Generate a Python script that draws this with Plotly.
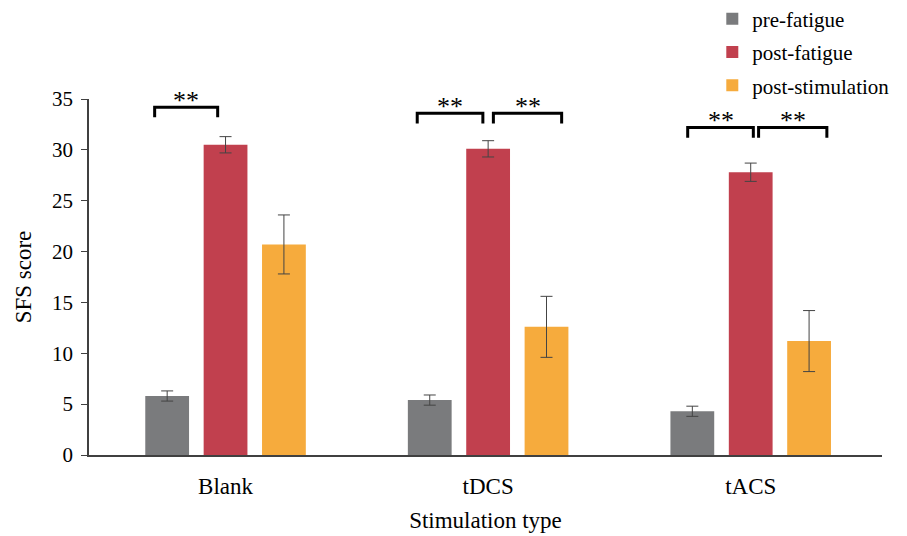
import plotly.graph_objects as go

categories = ["Blank", "tDCS", "tACS"]
series_names = ["pre-fatigue", "post-fatigue", "post-stimulation"]
pre_fatigue = [5.8, 5.4, 4.3]
pre_err = [0.5, 0.5, 0.5]
post_fatigue = [30.5, 30.1, 27.8]
post_err = [0.8, 0.8, 0.9]
post_stim = [20.7, 12.6, 11.2]
stim_err = [2.9, 3.0, 3.0]
colors = ["#7a7b7d", "#c1404e", "#f6ab3d"]

# significance brackets: (category index, left offset, right offset, y level)
brackets = [
    (0, -0.27, -0.03, 34.2),
    (1, -0.27, -0.02, 33.6),
    (1, 0.02, 0.28, 33.6),
    (2, -0.24, 0.01, 32.2),
    (2, 0.03, 0.29, 32.2),
]
sig_label = "**"

font_family = "Liberation Serif"

fig = go.Figure()
for name, vals, errs, col in zip(series_names, [pre_fatigue, post_fatigue, post_stim],
                                 [pre_err, post_err, stim_err], colors):
    fig.add_trace(go.Bar(
        name=name, x=categories, y=vals, legendgroup=name,
        marker=dict(color=col, line=dict(width=0)),
        error_y=dict(type="data", array=errs, visible=True, color="#444444",
                     thickness=1, width=6),
    ))

shapes = []
annotations = []
for ci, lo, hi, yl in brackets:
    x0 = ci + lo
    x1 = ci + hi
    shapes.append(dict(type="path", xref="x", yref="y",
                       path=f"M {x0},{yl-1.0} L {x0},{yl} L {x1},{yl} L {x1},{yl-1.0}",
                       line=dict(color="black", width=3)))
    annotations.append(dict(x=(x0 + x1) / 2, y=yl, xref="x", yref="y", text=sig_label,
                            showarrow=False, yanchor="bottom", yshift=-10,
                            font=dict(family=font_family, size=26, color="black")))

fig.update_layout(
    width=907, height=536,
    margin=dict(l=89, r=25, t=99, b=81, autoexpand=False),
    plot_bgcolor="white", paper_bgcolor="white",
    barmode="group", bargap=0.333, bargroupgap=0.25,
    font=dict(family=font_family, size=20, color="black"),
    shapes=shapes, annotations=annotations,
    legend=dict(x=0.786, y=1.282, xanchor="left", yanchor="top",
                font=dict(family=font_family, size=21, color="black"),
                tracegroupgap=3, itemsizing="constant", bgcolor="rgba(0,0,0,0)"),
    xaxis=dict(type="category", range=[-0.52, 2.50], showline=True, linecolor="#404040",
               linewidth=1.5, ticks="", showgrid=False, tickfont=dict(size=23),
               ticklabelstandoff=10,
               title=dict(text="Stimulation type", font=dict(size=23), standoff=14)),
    yaxis=dict(range=[0, 35], dtick=5, showline=True, linecolor="#404040", linewidth=1.5,
               ticks="outside", ticklen=6, tickcolor="#404040", showgrid=False,
               zeroline=False, tickfont=dict(size=21), ticklabelstandoff=4,
               title=dict(text="SFS score", font=dict(size=23), standoff=14)),
)

fig.write_html("out.html")
